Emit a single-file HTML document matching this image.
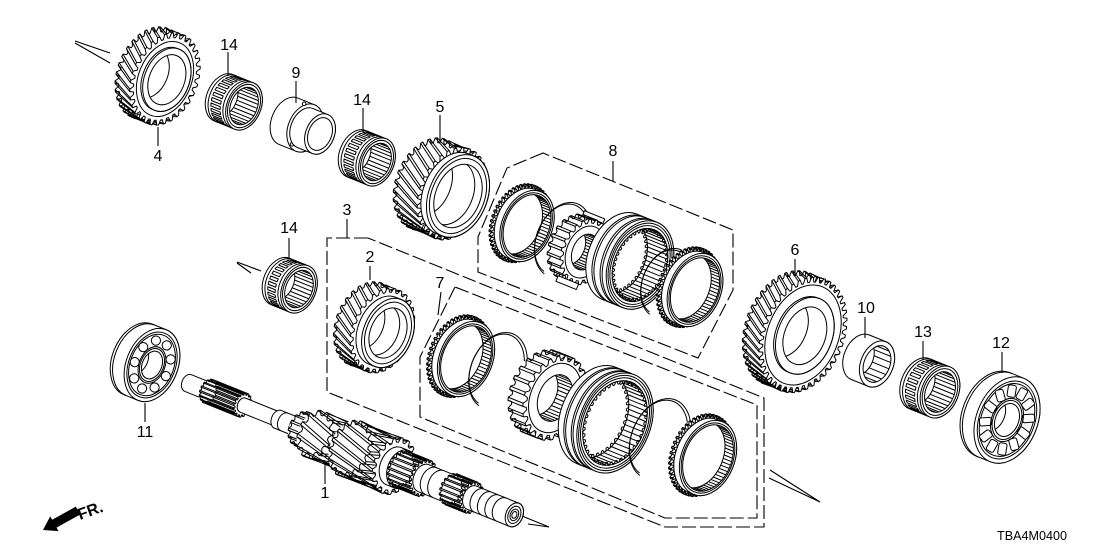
<!DOCTYPE html>
<html><head><meta charset="utf-8"><style>
html,body{margin:0;padding:0;background:#fff;width:1108px;height:554px;overflow:hidden}
svg{display:block}
text{font-family:"Liberation Sans",Arial,sans-serif;fill:#000}
</style></head><body>
<svg id="s" xmlns="http://www.w3.org/2000/svg" width="1108" height="554" viewBox="0 0 1108 554">
<rect width="1108" height="554" fill="#fff"/>
<g fill="none" stroke="#000" stroke-width="1.1" stroke-dasharray="14 4">
 <path d="M368 238L327 238L327 392L665 527L764 527L764 398Z"/>
 <path d="M543 153L507 168L478 237L478 272L698 358L733 290L733 230Z"/>
 <path d="M455 287L420 357L420 417L665 518L757 518L757 405Z"/>
</g>
<g id="parts" fill="#fff" stroke="#000" stroke-width="1" stroke-linejoin="round"></g>
<g stroke="#000" stroke-width="1.1" fill="none">
 <path d="M158 127V146M228 52V76M296 81V103M363 108V133M440 115V143M347 219V238M289 238V259M370 266V280M441 292L438 315M613 161V181M795 259V276M865 317V338M923 341V360M1002 352V373M145 403V422M325 463V484"/>
 <path d="M75 41L110 53M75 43L110 63"/>
 <path d="M237 262L261 271M237 263L251 273"/>
 <path d="M522 516L549 527M528 524L549 527"/>
 <path d="M770 470L820 502M769 478L820 502"/>
</g>
<g font-size="16" text-anchor="middle">
 <text x="158" y="161">4</text>
 <text x="229" y="50">14</text>
 <text x="296" y="78">9</text>
 <text x="362" y="105">14</text>
 <text x="440" y="112">5</text>
 <text x="347" y="215">3</text>
 <text x="289" y="233">14</text>
 <text x="370" y="262">2</text>
 <text x="440" y="288">7</text>
 <text x="613" y="156">8</text>
 <text x="795" y="255">6</text>
 <text x="866" y="313">10</text>
 <text x="923" y="337">13</text>
 <text x="1001" y="348">12</text>
 <text x="145" y="437">11</text>
 <text x="325" y="498">1</text>
</g>
<g transform="translate(43 530) rotate(151)"><path d="M0 0L-13 -8.5L-13 -4.5L-40 -4.5L-40 4.5L-13 4.5L-13 8.5Z" fill="#000"/></g>
<text x="80" y="520" font-size="16" font-weight="bold" transform="rotate(-20 80 520)">FR.</text>
<text x="997" y="540" font-size="12.5" textLength="70" lengthAdjust="spacingAndGlyphs">TBA4M0400</text>
</svg>
<script>
const K=0.68,S=Math.PI*2,D=Math.PI/180;
const f=n=>Math.round(n*10)/10;
const P=(x,r,t)=>[x+K*r*Math.cos(t),r*Math.sin(t)];
const E=(x,r,a='')=>`<ellipse cx="${f(x)}" cy="0" rx="${f(K*r)}" ry="${f(r)}" ${a}/>`;
const EN=(x,r)=>E(x,r,'fill="none"');
const cyl=(x0,x1,r,a='')=>{const k=f(K*r),R=f(r);return `<path d="M${f(x0)} ${-R}L${f(x1)} ${-R}A${k} ${R} 0 0 1 ${f(x1)} ${R}L${f(x0)} ${R}A${k} ${R} 0 0 1 ${f(x0)} ${-R}Z" ${a}/>`;};
const cylF=(x0,x1,r)=>cyl(x0,x1,r)+EN(x1,r);
const half=(x,r)=>{const k=f(K*r),R=f(r);return `<path d="M${f(x)} ${-R}A${k} ${R} 0 0 0 ${f(x)} ${R}" fill="none"/>`;};
const pl=pts=>pts.map((p,i)=>(i?'L':'M')+f(p[0])+' '+f(p[1])).join('');
const arc=(x,r,t1,t2)=>{const a=[];for(let i=0;i<=48;i++){a.push(P(x,r,t1+(t2-t1)*i/48));}return `<path d="${pl(a)}" fill="none"/>`;};
const teeth=(x,r1,r2,N,ph,a='')=>{const s=S/N,pts=[];for(let i=0;i<N;i++){const t=ph+i*s;pts.push(P(x,r1,t),P(x,r2,t+.22*s),P(x,r2,t+.5*s),P(x,r1,t+.72*s));}return `<path d="${pl(pts)}Z" ${a}/>`;};
const tlines=(xf,xb,r,N,h)=>{const s=S/N;let d='';for(let i=0;i<N;i++){for(const q of [.22,.5]){const t=i*s+q*s;d+=pl([P(xf,r,t),P(xb,r,t+h)]);}}return `<path d="${d}" fill="none"/>`;};
let cid=0;
const clip=(x,r,inner)=>{const id='c'+(cid++);return `<clipPath id="${id}">${E(x,r)}</clipPath><g clip-path="url(#${id})">${inner}</g>`;};
const gearT=(xf,xb,r1,r2,N,h)=>cyl(xb,xf,r2,'stroke="none"')+teeth(xb,r1,r2,N,h)+tlines(xf,xb,r2,N,h)+teeth(xf,r1,r2,N,0);
const bore=(xf,xb,r,extra='')=>E(xf,r)+clip(xf,r,EN(xb,r)+extra);
const inLines=(xf,xb,r,a1,a2,st)=>{let d='';for(let a=a1;a<=a2;a+=st){const t=a*D;d+=pl([P(xf,r,t),P(xb,r,t)]);}return `<path d="${d}" fill="none"/>`;};

function needle(R,L){
  let s=cyl(-L,0,R)+half(-L+3,R)+half(-3,R);
  let d='';
  for(let a=102;a<=258;a+=13){const t1=(a-3.5)*D,t2=(a+3.5)*D;d+=pl([P(-L+6,R,t1),P(-6,R,t1),P(-6,R,t2),P(-L+6,R,t2)])+'Z';}
  s+=`<path d="${d}" fill="none"/>`;
  s+=E(0,R)+EN(0,R*.9);
  const ri=R*.78;
  s+=bore(0,-L,ri,inLines(0,-L,ri,-80,80,12));
  return s;
}
function ballB(R,L,roll){
  let s=cyl(-L,0,R)+half(-L+2.5,R);
  s+=E(0,R)+EN(0,R*.9)+EN(0,R*.84);
  const rm=R*.67,br=R*.12,N=roll?12:9;
  for(let i=0;i<N;i++){const t=i*S/N+.2;const p=P(0,rm,t);
    if(roll){const ang=Math.atan2(p[1],p[0])*180/Math.PI;s+=`<rect x="${f(p[0]-br*1.1)}" y="${f(p[1]-br*.75)}" width="${f(br*2.2)}" height="${f(br*1.5)}" rx="2" transform="rotate(${f(ang)} ${f(p[0])} ${f(p[1])})"/>`;}
    else s+=`<circle cx="${f(p[0])}" cy="${f(p[1])}" r="${f(br)}"/>`;}
  s+=EN(0,R*.5)+EN(0,R*.45);
  s+=bore(0,-L,R*.38);
  return s;
}
function sync(R,w){
  let s=cyl(-w,0,R+3.5,'stroke="none"')+teeth(-w,R+.5,R+3.5,48,0)+tlines(-w+3,-w,R+3.5,48,0)+teeth(-w+3,R+.5,R+3.5,48,0,'fill="none"');
  s+=cyl(-w+3,0,R)+E(0,R)+EN(0,R-2.5);
  const ri=R-4.5;
  s+=bore(0,-w,ri,inLines(0,-w,ri,-75,75,6));
  return s;
}
const snap=(R,t1,t2)=>arc(0,R,t1*D,t2*D)+arc(-1.5,R-2.2,t1*D,t2*D);
function hub(r1,r2,w,N,keys){
  let s='';
  if(keys){s+=`<rect x="${-w-2}" y="${-r2-4}" width="${w+8}" height="6"/>`;}
  s+=gearT(0,-w,r1,r2,N,0)+EN(0,r1-3);
  const ri=r1*.62;
  s+=bore(0,-w,ri,inLines(0,-w,ri,-70,70,10));
  if(keys){s+=`<rect x="${-w-2}" y="${r2-2}" width="${w+8}" height="6"/>`;}
  return s;
}
function sleeve(R,w){
  let s=cyl(-w,0,R);
  for(const q of [.2,.3,.6,.7]) s+=half(-w*q,R);
  s+=E(0,R)+EN(0,R-2.5)+EN(0,R-5);
  const ri=R-8;
  s+=bore(0,-w,ri,inLines(0,-w,ri,-80,80,7)+teeth(-w,ri,ri-3,40,0,'fill="none"'));
  s+=teeth(0,ri,ri-3,40,0,'fill="none"');
  return s;
}
function shaft(){
  let s='';
  s+=cylF(0,22,9);
  s+=gearT(59,22,10.5,12.5,16,0);
  s+=cylF(59,97,7.5);
  s+=cylF(97,118,9.5)+half(104,9.5);
  s+=cylF(118,124,12);
  s+=gearT(140,122,15,18,14,0);
  s+=gearT(176,137,20,25,12,.55);
  s+=gearT(222,175,25,29.5,17,.5);
  s+=cylF(222,230,20);
  s+=gearT(254,230,16.5,19,20,0);
  s+=cylF(254,284,14.5)+half(262,14.5)+half(270,14.5);
  s+=gearT(306,284,14,16.5,18,0);
  s+=cylF(306,352,12.5);
  for(const x of [314,322,330,338]) s+=half(x,12.5);
  s+=EN(352,9)+EN(352,6)+EN(352,3.5);
  return s;
}
const parts=[];
function part(cx,cy,inner){parts.push(`<g transform="translate(${cx} ${cy}) rotate(22)">${inner}</g>`);}

// upper row
part(165,79,gearT(0,-16,43,48,32,.25)+EN(0,39)+cylF(0,2,33)+bore(2,-16,26));
part(244,106,needle(25,22));
part(320,134,cyl(-34,-16,25)+E(-16,25)+`<circle cx="-26" cy="-22" r="1.8"/><circle cx="-22" cy="20" r="1.8"/>`+cyl(-16,0,21)+E(0,21)+bore(0,-34,17));
part(377,162,needle(25,22));
part(458,196,gearT(-6,-32,43,48,30,.35)+cylF(-6,0,43)+EN(0,39)+bore(0,-32,33,EN(-8,33)));
// box 8
part(527,226,sync(37,9));
part(563,240,snap(39,-260,-30));
part(585,252,hub(30,34,14,22,true));
part(640,265,sleeve(46,22));
part(667,283,snap(36,-260,-30));
part(695,290,sync(38,9));
// right
part(803,335,gearT(0,-18,55,60,42,.22)+EN(0,52)+cylF(0,2,40)+bore(2,-18,30));
part(877,364,cyl(-18,0,24)+E(0,24)+bore(0,-18,19,inLines(0,-18,19,-60,60,20)));
part(940,392,needle(27,22));
part(1007,420,ballB(45,15,true));
// middle
part(299,289,needle(25,20));
part(388,333,gearT(-6,-24,40,44,28,.3)+cylF(-6,0,36)+EN(0,32)+bore(0,-24,26,EN(-8,26)));
// box 7
part(466,359,sync(39,9));
part(498,371,snap(40,-260,-30));
part(555,398,hub(39,44,16,24,false));
part(615,423,sleeve(52,20));
part(660,439,snap(42,-260,-30));
part(708,458,sync(39,9));
// lower
part(152,365,ballB(38,15,false));
part(188,383,shaft());

document.getElementById('parts').innerHTML=parts.join('');
</script>
</body></html>
